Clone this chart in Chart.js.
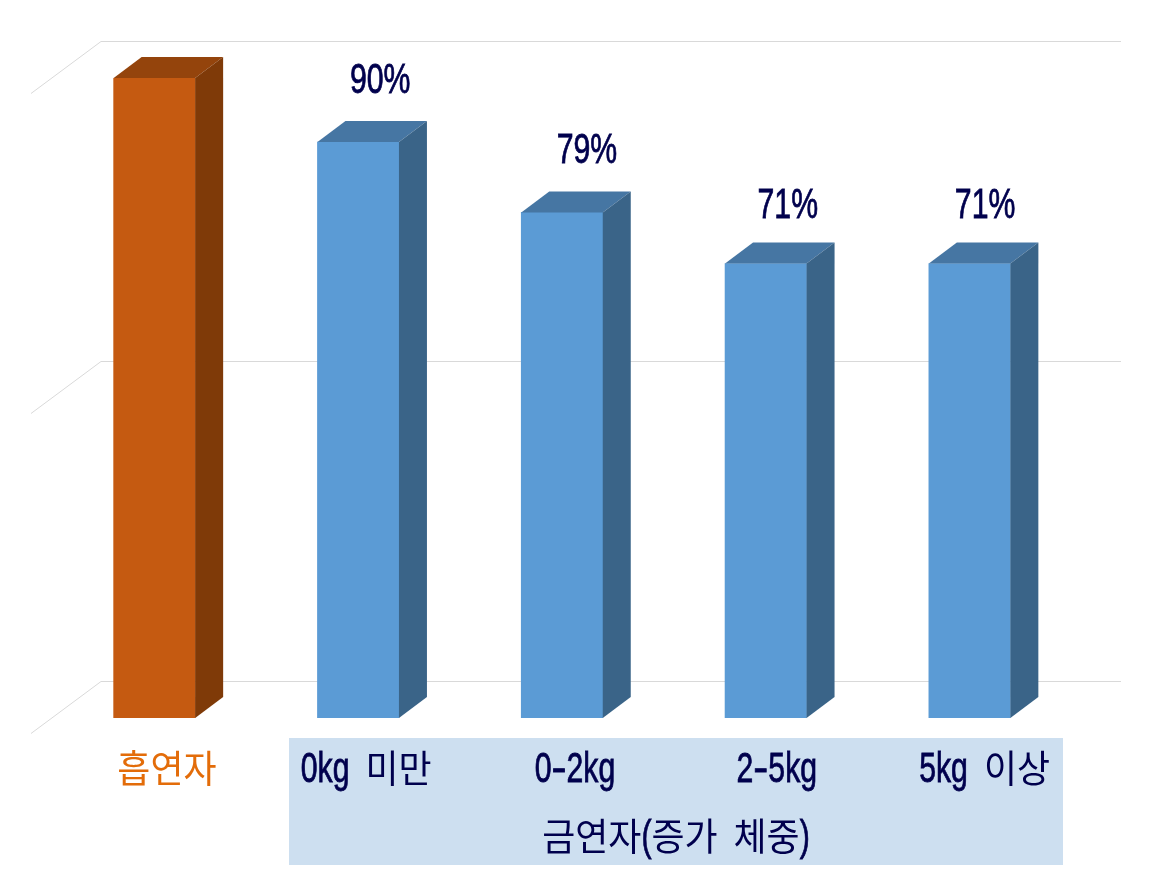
<!DOCTYPE html>
<html>
<head>
<meta charset="utf-8">
<script src="https://cdn.jsdelivr.net/npm/chart.js@4"></script>
<style>
  html, body { margin: 0; padding: 0; background: #fff; }
  canvas { display: block; }
</style>
</head>
<body>
<canvas id="chart" width="1172" height="880"></canvas>
<script>
const categories = ['흡연자', '0kg 미만', '0-2kg', '2-5kg', '5kg 이상'];
const values = [100, 90, 79, 71, 71];
const valueLabels = ['', '90%', '79%', '71%', '71%'];
const groupLabel = '금연자(증가 체중)';

const frontColors = ['#C55A11', '#5B9BD5', '#5B9BD5', '#5B9BD5', '#5B9BD5'];
const topColors = ['#94440C', '#4676A3', '#4676A3', '#4676A3', '#4676A3'];
const sideColors = ['#7F3A08', '#3A6488', '#3A6488', '#3A6488', '#3A6488'];
const categoryColors = ['#E36C09', '#00004D', '#00004D', '#00004D', '#00004D'];

// the labels do not sit exactly over the bars in the original
const categoryNudge = [12.5, 8, 13, 11, 15];
const valueNudgeX = [0, 22, 25, 22, 15.5];
const valueNudgeY = [0, 49, 49, 46, 46];

const navy = '#00004D';
const depthX = 28, depthY = 21;

function poly(ctx, pts, color) {
    ctx.fillStyle = color;
    ctx.beginPath();
    pts.forEach(function (p, i) { i ? ctx.lineTo(p[0], p[1]) : ctx.moveTo(p[0], p[1]); });
    ctx.closePath();
    ctx.fill();
}

// condensed text: latin and hangul need different squeeze, so draw run by run
function textRuns(ctx, text) {
    return text.match(/[\uAC00-\uD7A3]+|\s+|-|[^\uAC00-\uD7A3\s-]+/g).map(function (s) {
        if (/^\s/.test(s)) return { s: '', w: 16 };
        const hangul = /[\uAC00-\uD7A3]/.test(s);
        const font = hangul ? '38px "Noto Sans CJK KR"' : '42px "Liberation Sans"';
        const sx = hangul ? 0.945 : (s === '-' ? 1.07 : 0.72);
        ctx.font = font;
        return { s: s, font: font, sx: sx, hangul: hangul, w: ctx.measureText(s).width * sx };
    });
}

function drawLabel(ctx, text, cx, baseline, color) {
    const runs = textRuns(ctx, text);
    let x = cx - runs.reduce(function (a, r) { return a + r.w; }, 0) / 2;
    ctx.save();
    ctx.fillStyle = color;
    ctx.strokeStyle = color;
    ctx.lineWidth = 0.8;
    ctx.textAlign = 'left';
    ctx.textBaseline = 'alphabetic';
    runs.forEach(function (r) {
        if (r.s) {
            ctx.save();
            ctx.translate(x, baseline);
            ctx.scale(r.sx, 1);
            ctx.font = r.font;
            ctx.fillText(r.s, 0, 0);
            if (!r.hangul) ctx.strokeText(r.s, 0, 0);
            ctx.restore();
        }
        x += r.w;
    });
    ctx.restore();
}

const depthPlugin = {
    id: 'depth',
    beforeDraw(chart) {
        const ctx = chart.ctx;
        ctx.save();
        ctx.fillStyle = '#CDDFF0';
        ctx.fillRect(289, 738, 774, 127);
        ctx.restore();
    },
    beforeDatasetsDraw(chart) {
        const ctx = chart.ctx;
        const y = chart.scales.y;
        ctx.save();
        ctx.strokeStyle = '#D9D9D9';
        ctx.lineWidth = 1;
        y.ticks.forEach(function (t) {
            const py = y.getPixelForValue(t.value);
            ctx.beginPath();
            ctx.moveTo(31, py + 15.5);
            ctx.lineTo(101, py - 36.5);
            ctx.lineTo(1121, py - 36.5);
            ctx.stroke();
        });
        ctx.restore();
    },
    afterDatasetsDraw(chart) {
        const ctx = chart.ctx;
        const x = chart.scales.x;
        const bars = chart.getDatasetMeta(0).data;
        ctx.save();
        bars.forEach(function (bar, i) {
            const p = bar.getProps(['x', 'y', 'base', 'width'], true);
            const l = p.x - p.width / 2, r = p.x + p.width / 2;
            poly(ctx, [[l, p.y], [l + depthX, p.y - depthY], [r + depthX, p.y - depthY], [r, p.y]], topColors[i]);
            poly(ctx, [[r, p.y], [r + depthX, p.y - depthY], [r + depthX, p.base - depthY], [r, p.base]], sideColors[i]);
            if (valueLabels[i]) {
                drawLabel(ctx, valueLabels[i], p.x + valueNudgeX[i], p.y - valueNudgeY[i], navy);
            }
            drawLabel(ctx, categories[i], x.getPixelForTick(i) + categoryNudge[i], 782, categoryColors[i]);
        });
        drawLabel(ctx, groupLabel, 676, 850, navy);
        ctx.restore();
    }
};

new Chart(document.getElementById('chart'), {
    type: 'bar',
    data: {
        labels: categories,
        datasets: [{
            data: values,
            backgroundColor: frontColors,
            barThickness: 81.5
        }]
    },
    options: {
        responsive: false,
        animation: false,
        layout: { padding: { left: 52.5, right: 100.5, top: 78, bottom: 0 } },
        plugins: {
            legend: { display: false },
            tooltip: { enabled: false }
        },
        scales: {
            x: {
                grid: { display: false },
                border: { display: false },
                afterFit(scale) { scale.height = 162; },
                ticks: { display: false }
            },
            y: {
                display: false,
                min: 0,
                max: 100,
                ticks: { stepSize: 50 }
            }
        }
    },
    plugins: [depthPlugin]
});
</script>
</body>
</html>
